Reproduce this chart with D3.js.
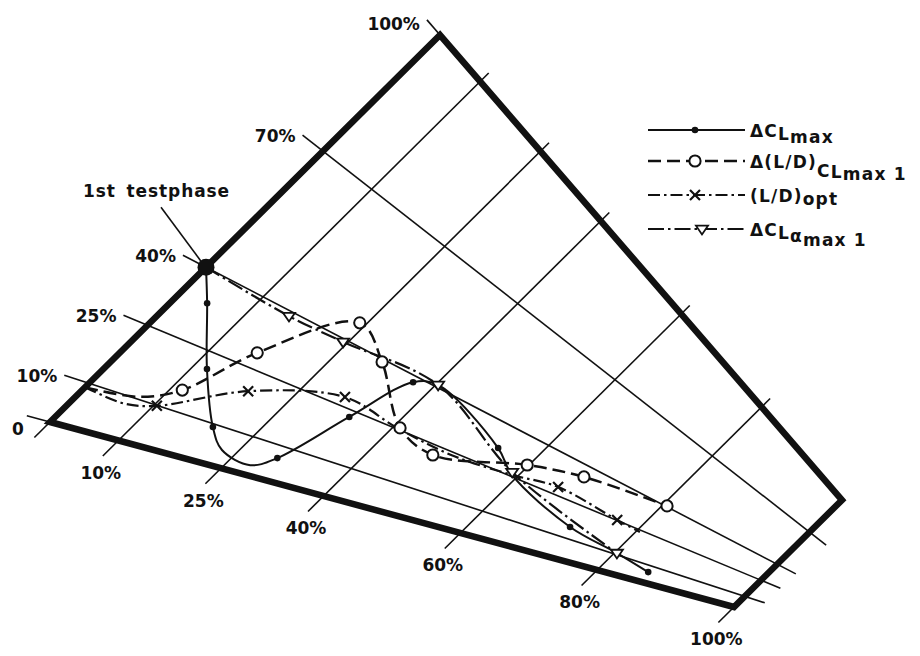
<!DOCTYPE html>
<html>
<head>
<meta charset="utf-8">
<script src="https://cdn.jsdelivr.net/npm/d3@7"></script>
<style>
  html, body { margin: 0; padding: 0; background: #fff; }
  svg { display: block; }
  text { font-family: "DejaVu Sans", sans-serif; font-weight: bold; fill: #111; }
</style>
</head>
<body>
<svg id="chart" width="920" height="656"></svg>
<script>
// Percentage scales: u runs along the lower edge, v along the left edge.
const uLabels = [10, 25, 40, 60, 80, 100];
const vLabels = [0, 10, 25, 40, 70, 100];
const uGridLines = [10, 25, 40, 60, 80];
const vGridLines = [10, 25, 40, 70];

// Common starting configuration
const testPhase = [0, 40];

// Curves as [u %, v %, has marker]
const deltaClMax = [
  [0, 40, 0], [4.3, 33.8, 1], [11.9, 21.2, 1], [19.3, 9.2, 1], [23, 4.5, 0],
  [28, 2.8, 0], [30.3, 6.6, 1], [33.8, 23.1, 1], [37.1, 38.3, 1], [40.3, 40.7, 0],
  [54.5, 31.9, 1], [59.2, 25.6, 0], [71.9, 15.1, 1], [80.3, 10.8, 0], [86.1, 6.3, 1]
];
const deltaLdClMax1 = [
  [0, 9, 0], [7.4, 10.6, 0], [11.5, 15, 1], [15.8, 28.7, 1], [24.1, 45, 1],
  [31.2, 39.3, 1], [40.9, 25.6, 1], [47.8, 21.9, 1], [59.8, 30.8, 1],
  [67.7, 35.6, 1], [80.6, 40.4, 1]
];
const ldOpt = [
  [0, 9, 0], [6.5, 8.2, 0], [10.4, 9.9, 1], [19.2, 19.9, 1], [31, 27.4, 1],
  [40.5, 25.3, 0], [50, 24, 0], [59.2, 25.6, 0], [65.9, 28.1, 1],
  [76.5, 25.2, 1], [80.5, 24.1, 0]
];
const deltaClAlphaMax1 = [
  [0, 40, 0], [15.2, 38.9, 1], [24.4, 39.3, 1], [40.3, 40.7, 1],
  [58.9, 26.5, 1], [80.3, 10.8, 1]
];

const svg = d3.select("#chart");
const ink = "#111";

// Corners of the distorted frame (0/0, 100/0, 0/100, 100/100)
const P00 = [50, 422], P10 = [734, 607], P01 = [440, 35], P11 = [842, 500];
const su = d3.scaleLinear().domain([0, 100]).range([0, 1]);
const sv = d3.scaleLinear().domain([0, 100]).range([0, 1]);

// Bilinear map from (u, v) percentages to screen coordinates
function proj(u, v) {
  const a = su(u), b = sv(v);
  const w00 = (1 - a) * (1 - b), w10 = a * (1 - b), w01 = (1 - a) * b, w11 = a * b;
  return [
    w00 * P00[0] + w10 * P10[0] + w01 * P01[0] + w11 * P11[0],
    w00 * P00[1] + w10 * P10[1] + w01 * P01[1] + w11 * P11[1]
  ];
}
// Point d pixels beyond q on the ray p -> q
function beyond(p, q, d) {
  const dx = q[0] - p[0], dy = q[1] - p[1], L = Math.hypot(dx, dy);
  return [q[0] + dx / L * d, q[1] + dy / L * d];
}
function seg(g, a, b, w) {
  g.append("line").attr("x1", a[0]).attr("y1", a[1]).attr("x2", b[0]).attr("y2", b[1])
    .attr("stroke", ink).attr("stroke-width", w);
}

// ---- grid lines with their overhanging ticks
const gGrid = svg.append("g").attr("stroke-linecap", "butt");
uGridLines.forEach(u => {
  const a = proj(u, 0), b = proj(u, 100);
  seg(gGrid, beyond(b, a, 22), beyond(a, b, 12), 1.6);
});
vGridLines.forEach(v => {
  const a = proj(0, v), b = proj(100, v);
  seg(gGrid, beyond(b, a, 26), beyond(a, b, 21), 1.6);
});
// ticks continuing the frame edges
seg(gGrid, proj(0, 0), beyond(proj(0, 100), proj(0, 0), 22), 1.6);
seg(gGrid, proj(100, 0), beyond(proj(100, 100), proj(100, 0), 22), 1.6);
seg(gGrid, proj(0, 0), beyond(proj(100, 0), proj(0, 0), 24), 1.6);
seg(gGrid, proj(0, 100), beyond(proj(100, 100), proj(0, 100), 20), 1.6);

// ---- heavy frame
svg.append("path")
  .attr("d", d3.line()([proj(0, 0), proj(100, 0), proj(100, 100), proj(0, 100)]) + "Z")
  .attr("fill", "none").attr("stroke", ink).attr("stroke-width", 6.5)
  .attr("stroke-linejoin", "miter");

// ---- axis labels
const gLab = svg.append("g").style("font-size", "17px");
uLabels.forEach(u => {
  const a = proj(u, 0), b = proj(u, 100);
  const e = beyond(b, a, 22);
  gLab.append("text").attr("x", e[0] - 2).attr("y", e[1] + 23)
    .attr("text-anchor", "middle").text(u + "%");
});
vLabels.forEach(v => {
  const a = proj(0, v), b = proj(100, v);
  const e = beyond(b, a, v === 100 ? 20 : 26);
  if (v === 0) {
    gLab.append("text").attr("x", e[0] - 1).attr("y", e[1] + 20)
      .attr("text-anchor", "end").text("0");
  } else {
    gLab.append("text").attr("x", e[0] - 7).attr("y", e[1] + (v === 100 ? 10 : 7))
      .attr("text-anchor", "end").text(v + "%");
  }
});

// ---- curves
const line = d3.line().curve(d3.curveCatmullRom.alpha(0.5));
const gCurves = svg.append("g").attr("fill", "none").attr("stroke", ink);
const styles = [
  { data: deltaClMax, dash: null, w: 2 },
  { data: deltaLdClMax1, dash: "13,6", w: 2.5 },
  { data: ldOpt, dash: "12,4,2.5,4", w: 2.2 },
  { data: deltaClAlphaMax1, dash: "16,4,2.5,4", w: 2.2 }
];
styles.forEach(s => {
  gCurves.append("path")
    .attr("d", line(s.data.map(d => proj(d[0], d[1]))))
    .attr("stroke-width", s.w)
    .attr("stroke-dasharray", s.dash);
});

// ---- markers
function dot(g, p) {
  g.append("circle").attr("cx", p[0]).attr("cy", p[1]).attr("r", 3.3).attr("fill", ink);
}
function ring(g, p) {
  g.append("circle").attr("cx", p[0]).attr("cy", p[1]).attr("r", 5.6)
    .attr("fill", "#fff").attr("stroke", ink).attr("stroke-width", 2);
}
function cross(g, p) {
  const s = 5;
  g.append("path")
    .attr("d", `M${p[0] - s},${p[1] - s}L${p[0] + s},${p[1] + s}M${p[0] - s},${p[1] + s}L${p[0] + s},${p[1] - s}`)
    .attr("stroke", ink).attr("stroke-width", 2.2);
}
function tri(g, p) {
  const s = 6;
  g.append("path")
    .attr("d", `M${p[0] - s},${p[1] - s * 0.55}L${p[0] + s},${p[1] - s * 0.55}L${p[0]},${p[1] + s * 0.9}Z`)
    .attr("fill", "#fff").attr("stroke", ink).attr("stroke-width", 1.8);
}
const gMarks = svg.append("g");
deltaClMax.filter(d => d[2]).forEach(d => dot(gMarks, proj(d[0], d[1])));
deltaLdClMax1.filter(d => d[2]).forEach(d => ring(gMarks, proj(d[0], d[1])));
ldOpt.filter(d => d[2]).forEach(d => cross(gMarks, proj(d[0], d[1])));
deltaClAlphaMax1.filter(d => d[2]).forEach(d => tri(gMarks, proj(d[0], d[1])));

// ---- first test phase
const tp = proj(testPhase[0], testPhase[1]);
svg.append("circle").attr("cx", tp[0]).attr("cy", tp[1]).attr("r", 8.5).attr("fill", ink);
seg(svg, [tp[0] - 45, tp[1] - 60], [tp[0] - 5, tp[1] - 6], 1.6);
svg.append("text").attr("x", 83).attr("y", 197).style("font-size", "17px")
  .style("letter-spacing", "0.9px").style("word-spacing", "4px").text("1st testphase");

// ---- legend
const legendRows = [
  { y: 130, dash: null, w: 2.2, mark: dot, mx: 695,
    parts: [["ΔC", 0], ["L", 3], ["max", 3]] },
  { y: 161, dash: "13,6", w: 2.5, mark: ring, mx: 695,
    parts: [["Δ(L/D)", 0], ["C", 9], ["L", 1], ["max 1", 2]] },
  { y: 195, dash: "12,4,2.5,4", w: 2.2, mark: cross, mx: 695,
    parts: [["(L/D)", 0], ["opt", 3]] },
  { y: 229, dash: "16,4,2.5,4", w: 2.2, mark: tri, mx: 702,
    parts: [["ΔC", 0], ["L", 3], ["α", 3], ["max 1", 4]] }
];
const gLeg = svg.append("g");
legendRows.forEach(r => {
  gLeg.append("line").attr("x1", 648).attr("x2", 745).attr("y1", r.y).attr("y2", r.y)
    .attr("stroke", ink).attr("stroke-width", r.w).attr("stroke-dasharray", r.dash);
  r.mark(gLeg, [r.mx, r.y]);
  const t = gLeg.append("text").attr("x", 750).attr("y", r.y + 7)
    .style("font-size", "17px").style("letter-spacing", "1.2px");
  r.parts.forEach(([s, dy]) => t.append("tspan").attr("dy", dy).text(s));
});
</script>
</body>
</html>
